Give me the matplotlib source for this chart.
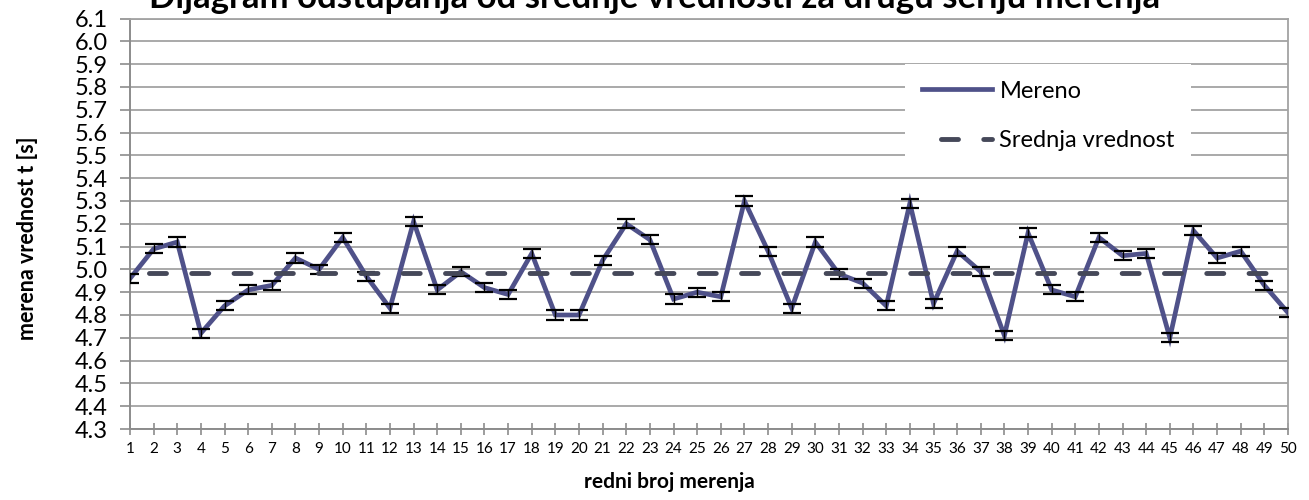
import numpy as np
import matplotlib
matplotlib.use("Agg")
import matplotlib.pyplot as plt
from matplotlib.ticker import MultipleLocator, FormatStrFormatter

plt.rcParams['font.family'] = ['Lato', 'DejaVu Sans']

# redni broj merenja i izmerene vrednosti t [s]
redni_broj = np.arange(1, 51)
mereno = [4.96, 5.09, 5.12, 4.72, 4.84, 4.91, 4.93, 5.05, 5.00, 5.14,
          4.97, 4.83, 5.21, 4.91, 4.99, 4.92, 4.89, 5.07, 4.80, 4.80,
          5.04, 5.20, 5.13, 4.87, 4.90, 4.88, 5.30, 5.08, 4.83, 5.12,
          4.98, 4.94, 4.84, 5.29, 4.85, 5.08, 4.99, 4.71, 5.16, 4.91,
          4.88, 5.14, 5.06, 5.07, 4.70, 5.17, 5.05, 5.08, 4.93, 4.81]
greska = 0.02
srednja = [4.985] * 50

W, H = 1309, 500
fig = plt.figure(figsize=(W / 100, H / 100), dpi=100)
ax = fig.add_axes([130 / W, 1 - 429 / H, (1288 - 130) / W, (429 - 18.6) / H])

line_col = '#4F5189'
mean_col = '#454859'
grid_col = '#A3A3A3'

ax.plot(redni_broj, mereno, color=line_col, lw=3.4, zorder=3,
        solid_joinstyle='miter', label='Mereno')
ax.errorbar(redni_broj, mereno, yerr=greska, fmt='none', ecolor='black',
            elinewidth=1.0, capsize=6.5, capthick=1.6, zorder=4)
ax.plot(redni_broj, srednja, color=mean_col, lw=3.5, zorder=5,
        dash_capstyle='round', linestyle=(4.8, (3.5, 5.2)),
        label='Srednja vrednost')

ax.set_xlim(1, 50)
ax.set_ylim(4.3, 6.1)
ax.set_xticks(redni_broj)
ax.yaxis.set_major_locator(MultipleLocator(0.1))
ax.yaxis.set_major_formatter(FormatStrFormatter('%.1f'))
ax.grid(axis='y', color=grid_col, lw=1.3, zorder=0)
ax.set_axisbelow(True)

for side in ['left', 'bottom']:
    ax.spines[side].set_color('#8C8C8C')
    ax.spines[side].set_linewidth(1.4)
for side in ['top', 'right']:
    ax.spines[side].set_color(grid_col)
    ax.spines[side].set_linewidth(1.3)

ax.tick_params(axis='y', direction='out', length=7, width=1.2, color='#8C8C8C',
               labelsize=17, pad=9)
ax.tick_params(axis='x', direction='inout', length=9, width=1.2, color='#8C8C8C',
               labelsize=11, pad=5)

fig.text(655 / W, 1 - 8 / H, 'Dijagram odstupanja od srednje vrednosti za drugu seriju merenja',
         ha='center', va='baseline', fontsize=25, fontweight='bold')
fig.text(28 / W, 1 - 238 / H, 'merena vrednost t [s]', rotation=90,
         ha='center', va='center', fontsize=15.5, fontweight='bold')
fig.text(669 / W, 1 - 482 / H, 'redni broj merenja',
         ha='center', va='center', fontsize=15, fontweight='bold')

leg = ax.legend(loc='upper left', bbox_to_anchor=(905 / W, 1 - 64 / H),
                bbox_transform=fig.transFigure, borderaxespad=0,
                fontsize=17, handlelength=3.0, handletextpad=0.3,
                labelspacing=1.2, borderpad=0.7, frameon=True, fancybox=False)
leg.get_frame().set_facecolor('white')
leg.get_frame().set_edgecolor('none')
leg.get_frame().set_alpha(1)

fig.savefig('out.png', dpi=100)
